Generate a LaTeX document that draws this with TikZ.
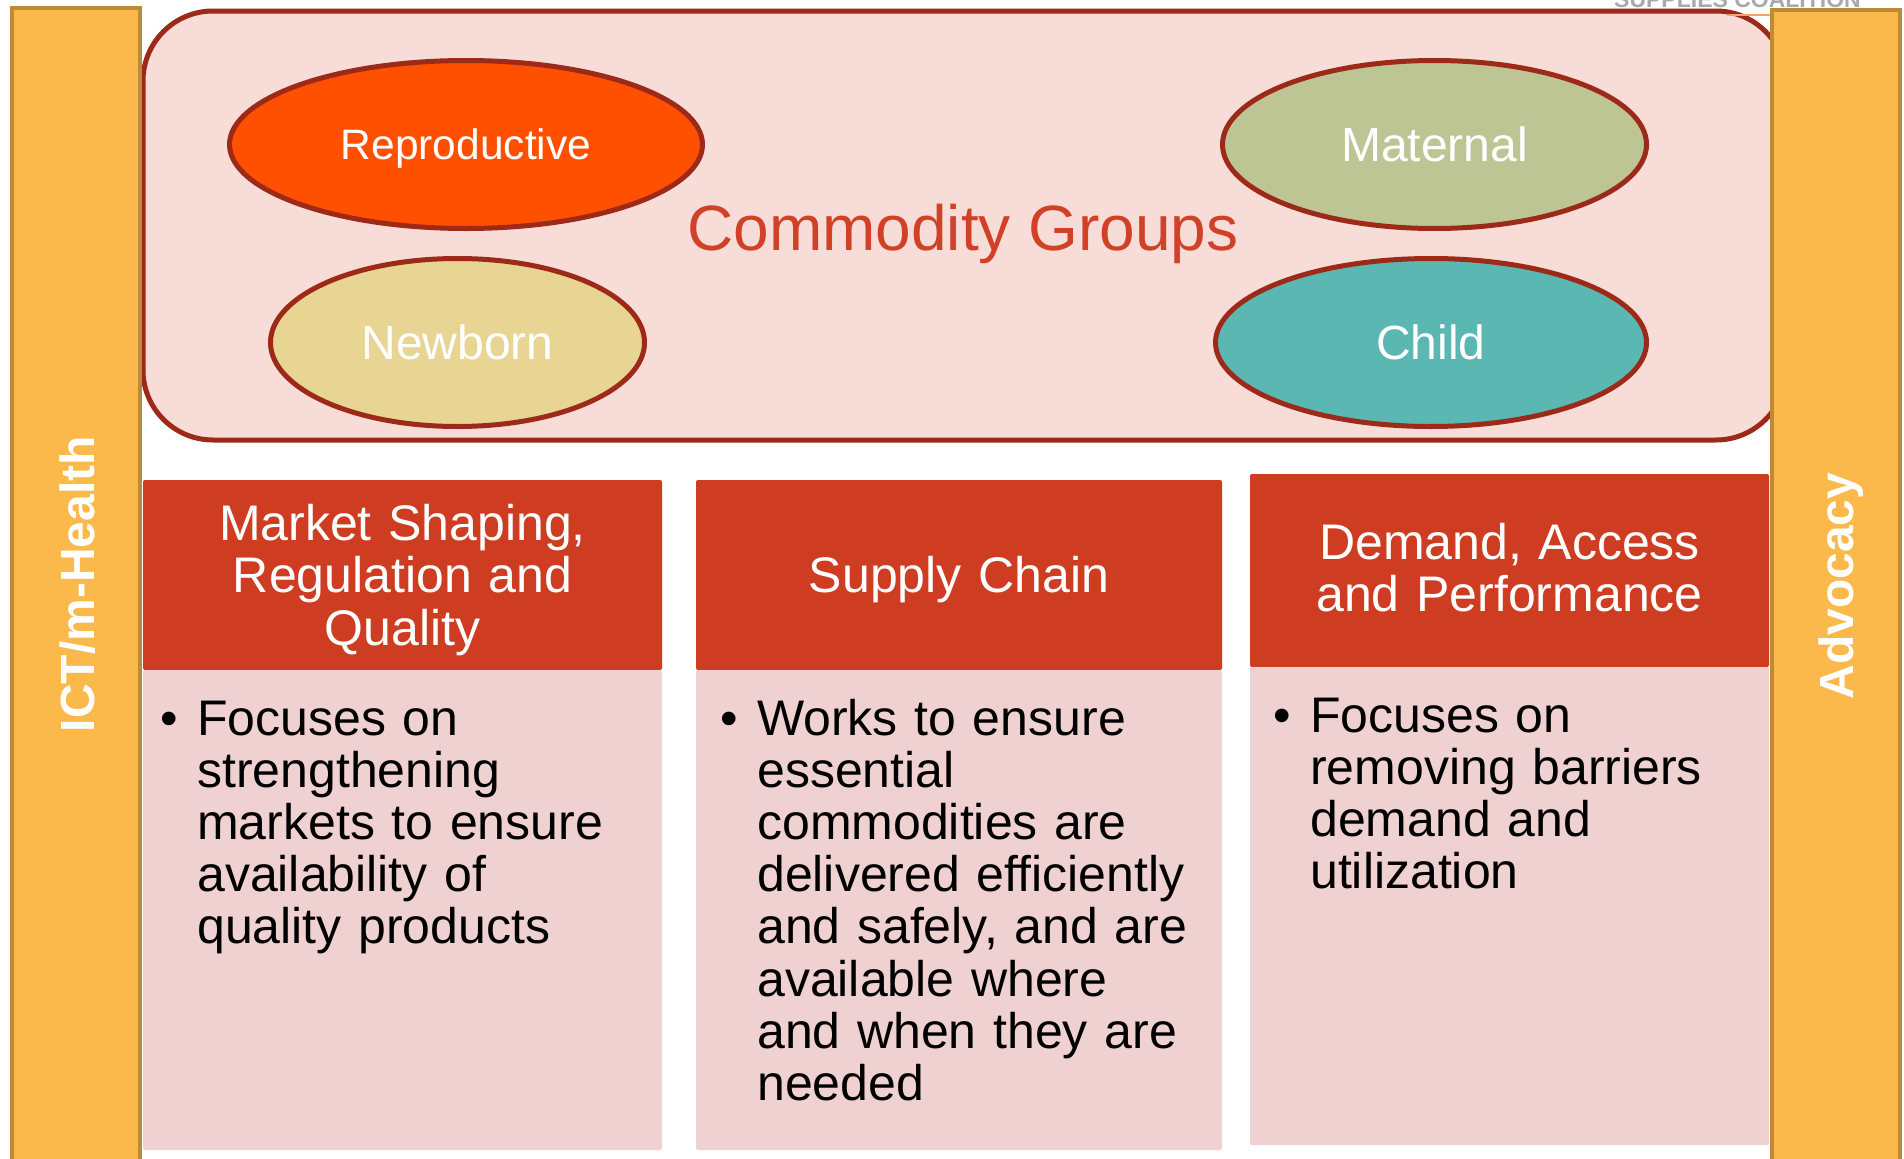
\documentclass[tikz,border=0pt]{standalone}
\usepackage{fontspec}
\setmainfont{Liberation Sans}
\usetikzlibrary{shapes.geometric}
\definecolor{barfill}{HTML}{FBB84B}
\definecolor{baredge}{HTML}{BF8A36}
\definecolor{panelfill}{HTML}{F8DCD8}
\definecolor{paneledge}{HTML}{9D2A19}
\definecolor{headfill}{HTML}{CE3D22}
\definecolor{bodyfill}{HTML}{F0D1D1}
\definecolor{titlecol}{HTML}{D14127}
\definecolor{reprocol}{HTML}{FF5000}
\definecolor{matcol}{HTML}{BEC594}
\definecolor{newcol}{HTML}{E8D594}
\definecolor{childcol}{HTML}{5AB7B2}
\definecolor{logogray}{HTML}{A7A9AC}
\definecolor{thinorange}{HTML}{F2A272}
\newcommand{\setfs}[2]{\fontsize{#1}{#2}\selectfont}
\begin{document}
\begin{tikzpicture}[x=1pt, y=-1pt,
  sidebar/.style={draw=baredge, line width=4pt, fill=barfill, rectangle, inner sep=0pt, minimum width=128pt},
  panel/.style={draw=paneledge, line width=5pt, fill=panelfill, rounded corners=70pt, inner sep=0pt},
  group/.style={ellipse, draw=paneledge, line width=5pt, inner sep=0pt, text=white, text depth=0pt, minimum height=168pt},
  head/.style={fill=headfill, rounded corners=2pt, inner sep=0pt},
  headtext/.style={text=white, align=center, text width=500pt, font=\setfs{50}{52.2}, inner sep=0pt},
  body/.style={fill=bodyfill, rounded corners=2pt, inner sep=0pt},
  bodytext/.style={align=left, text width=470pt, font=\setfs{50}{52.2}, inner sep=0pt, anchor=base west},
  sidetext/.style={text=white, font=\bfseries\setfs{48}{50}, rotate=90, anchor=base, inner sep=0pt}]
\useasboundingbox (0,0) rectangle (1904,1159);
\clip (0,0) rectangle (1904,1159);
\fill[white] (0,0) rectangle (1904,1159);

% commodity panel
\node[panel, minimum width=1643pt, minimum height=429pt] (panel) at (964.5,225.5) {};
\node[group, fill=reprocol, minimum width=473pt, font=\setfs{42.5}{45}] (repro) at (466,144.5) {Reproductive};
\node[group, fill=matcol, minimum width=424pt, font=\setfs{48}{50}] (maternal) at (1434.5,144.5) {Maternal};
\node[group, fill=newcol, minimum width=374pt, font=\setfs{48}{50}] (newborn) at (457.5,342.5) {Newborn};
\node[group, fill=childcol, minimum width=431pt, font=\setfs{48}{50}] (child) at (1431,342.5) {Child};
\node[text=titlecol, font=\setfs{64}{66}, anchor=base, inner sep=0pt] (title) at (963,250) {Commodity Groups};

% headers
\node[head, minimum width=519pt, minimum height=190pt] (h1) at (402.5,575) {};
\node[head, minimum width=526pt, minimum height=190pt] (h2) at (959,575) {};
\node[head, minimum width=519pt, minimum height=193pt] (h3) at (1509.5,570.5) {};
\node[headtext] (h1t) at (402.5,580) {Market Shaping,\\Regulation and\\Quality};
\node[headtext] (h2t) at (959,580) {Supply Chain};
\node[headtext] (h3t) at (1509.5,568) {Demand, Access\\and Performance};

% bodies
\node[body, minimum width=519pt, minimum height=480pt] (b1) at (402.5,910) {};
\node[body, minimum width=526pt, minimum height=480pt] (b2) at (959,910) {};
\node[body, minimum width=519pt, minimum height=478pt] (b3) at (1509.5,906) {};
\node[bodytext] (b1t) at (197,735) {\leavevmode\llap{\textbullet\hspace{19.5pt}}Focuses on\\strengthening\\markets to ensure\\availability of\\quality products};
\node[bodytext] (b2t) at (757,735) {\leavevmode\llap{\textbullet\hspace{19.5pt}}Works to ensure\\essential\\commodities are\\delivered efficiently\\and safely, and are\\available where\\and when they are\\needed};
\node[bodytext] (b3t) at (1310,732) {\leavevmode\llap{\textbullet\hspace{19.5pt}}Focuses on\\removing barriers\\demand and\\utilization};

% small line near logo
\coordinate (lnA) at (1727,15);
\coordinate (lnB) at (1772,15);
\draw[thinorange, line width=1.5pt] (lnA) -- (lnB);

% side bars
\node[sidebar, minimum height=1162pt] (leftbar) at (76,589) {};
\node[sidebar, minimum height=1160pt] (rightbar) at (1836,590) {};
\node[sidetext] (ict) at (94,584) {ICT/m-Health};
\node[sidetext] (adv) at (1853,586) {Advocacy};

% clipped logo text (cut off at the top edge, as in the reference)
\node[text=logogray, font=\bfseries\setfs{23}{25}, anchor=base, inner sep=0pt] (logo) at (1737.5,7) {SUPPLIES COALITION};
\end{tikzpicture}
\end{document}
